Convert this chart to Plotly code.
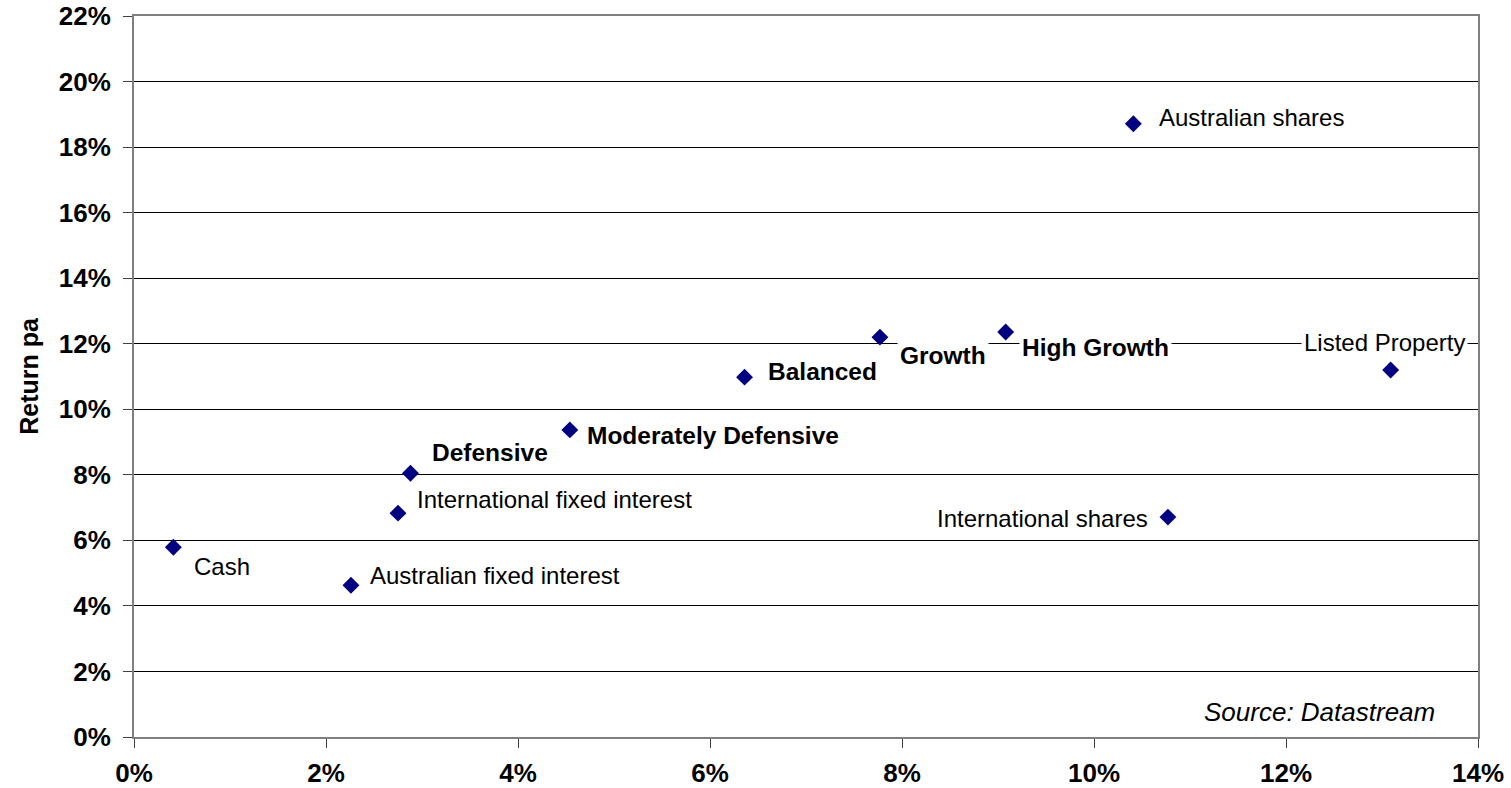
import plotly.graph_objects as go

# ---- data ----
names = ["Cash", "Australian fixed interest", "International fixed interest",
         "Defensive", "Moderately Defensive", "Balanced", "Growth", "High Growth",
         "Australian shares", "International shares", "Listed Property"]
risk = [0.41, 2.26, 2.75, 2.88, 4.54, 6.36, 7.77, 9.08, 10.41, 10.77, 13.09]   # x, % pa
ret = [5.79, 4.63, 6.83, 8.05, 9.37, 10.98, 12.20, 12.36, 18.71, 6.71, 11.20]  # y, % pa
bold = [False, False, False, True, True, True, True, True, False, False, False]

x_ticks = [0, 2, 4, 6, 8, 10, 12, 14]
y_ticks = [0, 2, 4, 6, 8, 10, 12, 14, 16, 18, 20, 22]

# ---- label placement (pixel offsets from each point) ----
label_style = {
    "Cash": ("left", 18, -19),
    "Australian fixed interest": ("left", 16, 10),
    "International fixed interest": ("left", 16, 14),
    "Defensive": ("left", 19, 21),
    "Moderately Defensive": ("left", 14, -6),
    "Balanced": ("left", 20, 6),
    "Growth": ("left", 17, -18),
    "High Growth": ("left", 13, -16),
    "Australian shares": ("left", 23, 6),
    "International shares": ("right", -17, -1),
    "Listed Property": ("right", 77, 27),
}

FONT = "Liberation Sans, Arial, sans-serif"

fig = go.Figure()
fig.add_trace(go.Scatter(
    x=risk, y=ret, mode="markers",
    marker=dict(symbol="diamond", size=13, color="#000080",
                line=dict(width=0)),
    hoverinfo="text", text=names, showlegend=False, cliponaxis=False,
))

annotations = []
for n, xv, yv, b in zip(names, risk, ret, bold):
    anchor, dx, dy = label_style[n]
    annotations.append(dict(
        x=xv, y=yv, xref="x", yref="y", showarrow=False,
        text=f"<b>{n}</b>" if b else n,
        xanchor=anchor, yanchor="middle", xshift=dx, yshift=dy,
        font=dict(family=FONT, size=24.5 if b else 24, color="#000000"),
        bgcolor="#ffffff", borderpad=2,
    ))
annotations.append(dict(
    x=0.9695, y=0.034, xref="paper", yref="paper", showarrow=False,
    text="<i>Source: Datastream</i>", xanchor="right", yanchor="middle",
    font=dict(family=FONT, size=26, color="#000000"),
))

fig.update_layout(
    width=1511, height=788,
    margin=dict(l=134, r=33, t=16, b=51),
    paper_bgcolor="#ffffff", plot_bgcolor="#ffffff",
    font=dict(family=FONT, color="#000000"),
    annotations=annotations,
    showlegend=False,
)
fig.update_xaxes(
    range=[0, 14], tickvals=x_ticks, ticktext=[f"{v}%" for v in x_ticks],
    showgrid=False, zeroline=False, automargin=False,
    showline=True, linecolor="#808080", linewidth=2, mirror=True,
    ticks="outside", ticklen=9, tickcolor="#404040", tickwidth=1,
    ticklabelstandoff=3,
    tickfont=dict(family=FONT, size=26, color="#000000", weight="bold"),
)
fig.update_yaxes(
    range=[0, 22], tickvals=y_ticks, ticktext=[f"{v}%" for v in y_ticks],
    showgrid=True, gridcolor="#000000", gridwidth=1, zeroline=False, automargin=False,
    showline=True, linecolor="#808080", linewidth=2, mirror=True,
    ticks="outside", ticklen=9, tickcolor="#404040", tickwidth=1,
    ticklabelstandoff=7,
    tickfont=dict(family=FONT, size=26, color="#000000", weight="bold"),
    title=dict(text="<b>Return pa</b>", standoff=13,
               font=dict(family=FONT, size=25, color="#000000")),
)

fig.write_html("out.html", config={"displayModeBar": False},
               post_script="document.body.style.margin='0';document.body.style.overflow='hidden';")
